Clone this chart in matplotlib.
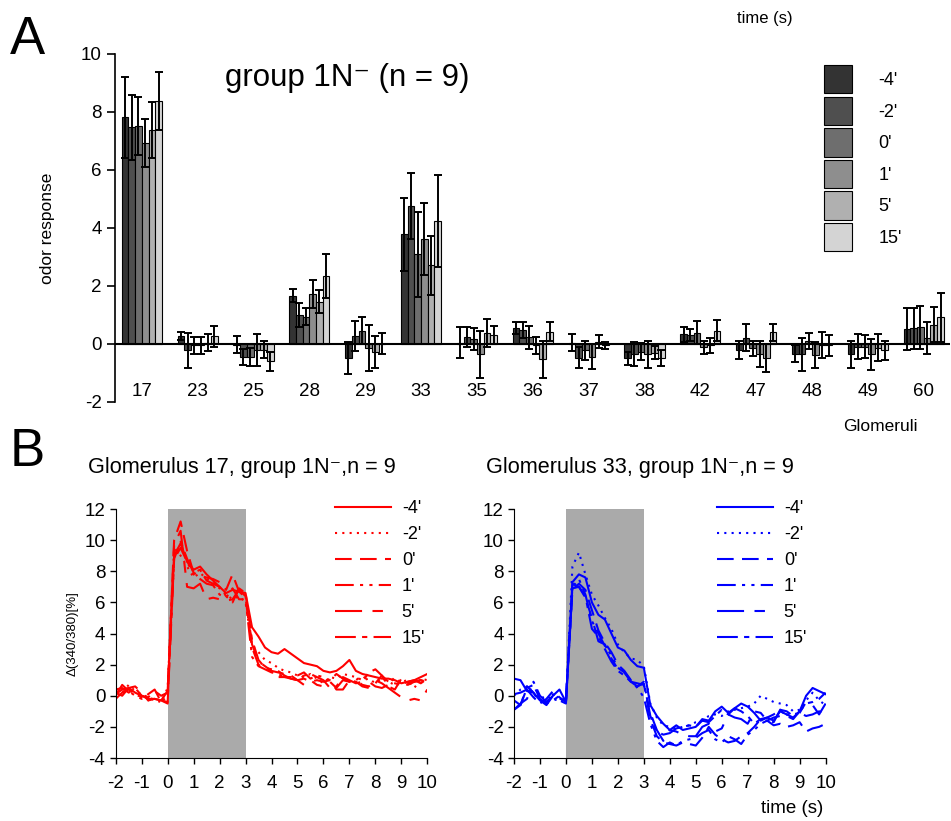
import numpy as np
import matplotlib
matplotlib.use("Agg")
import matplotlib.pyplot as plt

plt.rcParams['font.family'] = ['Liberation Sans', 'DejaVu Sans']
plt.rcParams['axes.unicode_minus'] = False

# panel A: odor responses per glomerulus at six time points
glomeruli = ['17', '23', '25', '28', '29', '33', '35', '36', '37', '38', '42', '47', '48', '49', '60']
time_labels = ["-4'", "-2'", "0'", "1'", "5'", "15'"]
bar_colors = ['#333333', '#4f4f4f', '#6e6e6e', '#8e8e8e', '#b0b0b0', '#d4d4d4']

resp_m4 = [7.82, 0.28, -0.02, 1.67, -0.49, 3.78, 0.05, 0.56, 0.05, -0.49, 0.34, -0.21, -0.34, -0.36, 0.52]
resp_m2 = [7.47, -0.22, -0.44, 1.00, 0.28, 4.76, 0.23, 0.48, -0.47, -0.34, 0.31, 0.22, -0.35, -0.10, 0.54]
resp_0 = [7.52, -0.05, -0.45, 0.94, 0.46, 3.09, 0.16, 0.23, -0.22, -0.26, 0.39, -0.15, 0.10, -0.10, 0.57]
resp_1 = [6.94, -0.05, -0.20, 1.72, -0.14, 3.61, -0.36, -0.05, -0.44, -0.36, -0.11, -0.34, -0.38, -0.36, 0.22]
resp_5 = [7.38, 0.05, -0.20, 1.46, -0.28, 2.71, 0.37, -0.53, 0.08, -0.30, -0.05, -0.49, -0.05, -0.13, 0.66]
resp_15 = [8.38, 0.26, -0.60, 2.34, 0.01, 4.25, 0.31, 0.42, -0.05, -0.49, 0.46, 0.40, -0.05, -0.22, 0.92]

err_m4 = [1.40, 0.15, 0.30, 0.23, 0.56, 1.27, 0.52, 0.21, 0.30, 0.23, 0.26, 0.32, 0.29, 0.48, 0.73]
err_m2 = [1.12, 0.60, 0.28, 0.42, 0.51, 1.15, 0.35, 0.29, 0.35, 0.41, 0.20, 0.46, 0.57, 0.43, 0.71]
err_0 = [1.00, 0.30, 0.32, 0.29, 0.46, 1.47, 0.38, 0.40, 0.33, 0.28, 0.40, 0.25, 0.28, 0.40, 0.74]
err_1 = [0.83, 0.28, 0.55, 0.48, 0.80, 1.24, 0.80, 0.30, 0.43, 0.46, 0.23, 0.46, 0.45, 0.54, 0.55]
err_5 = [0.96, 0.28, 0.30, 0.40, 0.56, 1.02, 0.49, 0.63, 0.23, 0.22, 0.25, 0.49, 0.45, 0.46, 0.60]
err_15 = [0.99, 0.36, 0.32, 0.76, 0.36, 1.59, 0.31, 0.33, 0.12, 0.28, 0.37, 0.29, 0.36, 0.33, 0.85]

responses = [resp_m4, resp_m2, resp_0, resp_1, resp_5, resp_15]
errors = [err_m4, err_m2, err_0, err_1, err_5, err_15]

# panel B: calcium traces, sampled every 0.25 s from -2 s to 10 s
t = np.arange(-2, 10.01, 0.25)

g17_m4 = [0.1, 0.4, 0.5, 0.2, 0.0, -0.2, -0.2, -0.3, 0.3, 9.0, 9.8, 8.6, 8.1, 8.3, 7.8, 7.4, 7.0, 6.6, 6.8, 6.7, 6.6,
          4.4, 3.8, 3.1, 2.8, 2.7, 3.0, 2.7, 2.4, 2.1, 2.0, 1.9, 1.6, 1.5, 1.6, 1.9, 2.3, 1.6, 1.4, 1.3, 1.2, 1.1, 1.1,
          1.0, 0.8, 0.9, 1.0, 1.2, 1.4]
g17_m2 = [0.3, 0.2, 0.7, 0.3, 0.1, -0.1, -0.3, -0.4, 0.5, 9.5, 9.0, 8.3, 7.6, 7.9, 7.5, 7.3, 6.9, 6.5, 6.2, 6.4, 6.0,
          3.2, 2.8, 2.3, 2.1, 1.8, 1.6, 1.5, 1.3, 1.2, 1.4, 1.1, 0.8, 1.2, 1.1, 1.4, 1.3, 1.2, 1.0, 1.1, 0.8, 1.1, 0.9,
          0.7, 0.9, 1.0, 0.5, 1.1, 1.0]
g17_0 = [0.4, 0.5, 0.2, 0.5, 0.0, -0.1, 0.3, 0.0, 0.2, 10.0, 11.2, 9.3, 7.9, 7.7, 7.6, 7.5, 7.3, 6.8, 7.8, 6.7, 6.3,
         3.1, 2.0, 1.7, 1.6, 1.5, 1.4, 1.3, 1.0, 1.1, 0.9, 1.0, 0.9, 1.0, 0.4, 0.4, 1.0, 0.9, 0.6, 0.5, 0.8, 1.3, 0.6,
         0.4, 1.1, 0.8, 0.9, 1.0, 0.9]
g17_1 = [0.0, 0.7, 0.3, 0.0, -0.2, 0.1, 0.4, -0.4, 0.0, 8.8, 9.5, 8.6, 7.8, 7.5, 7.2, 7.1, 6.5, 6.3, 6.9, 6.2, 6.2,
         2.5, 1.9, 1.7, 1.5, 1.4, 1.2, 1.2, 1.3, 1.5, 1.1, 1.3, 1.2, 1.0, 1.4, 1.1, 0.9, 1.0, 1.3, 0.9, 0.6, 0.5, 0.7,
         1.2, 0.8, 0.7, 0.9, 1.0, 0.8]
g17_5 = [0.2, 0.0, 0.5, 0.6, 0.2, -0.3, -0.1, -0.3, -0.5, 9.7, 10.6, 7.0, 6.9, 7.2, 6.2, 6.3, 6.2, 6.1, 6.2, 6.8, 6.4,
         3.3, 2.2, 1.9, 1.6, 1.2, 1.2, 1.1, 1.0, 0.7, 1.0, 0.7, 0.6, 0.9, 0.5, 1.0, 0.9, 1.0, 0.7, 0.6, 1.0, 0.8, 0.5,
         0.2, -0.1, -0.3, -0.2, -0.3, 0.4]
g17_15 = [-0.2, 0.2, 0.4, 0.1, -0.1, -0.3, -0.2, -0.3, -0.4, 8.8, 9.9, 8.8, 7.9, 8.1, 7.4, 7.2, 7.0, 6.4, 6.0, 6.9, 6.6,
          3.6, 2.3, 1.8, 1.7, 1.6, 1.3, 1.1, 1.0, 1.3, 1.4, 1.2, 1.0, 0.5, 0.6, 1.2, 1.0, 0.8, 0.9, 1.5, 1.7, 1.3, 0.9,
          0.8, 0.7, 0.9, 1.0, 0.8, 1.1]

g33_m4 = [1.1, 1.0, 0.3, 0.2, -0.3, -0.6, 0.0, 0.4, -0.4, 7.3, 7.8, 7.6, 6.0, 5.2, 4.9, 4.0, 3.1, 2.9, 2.3, 1.9, 1.8,
          -0.6, -1.3, -1.8, -2.2, -1.9, -2.2, -2.1, -2.0, -1.5, -1.6, -1.0, -0.7, -1.1, -0.8, -0.5, -0.7, -1.1, -1.6,
          -1.4, -1.6, -1.0, -1.2, -1.4, -1.0, 0.0, 0.5, 0.3, 0.1]
g33_m2 = [0.0, 0.4, 0.6, 0.2, -0.2, 0.0, -0.3, -0.2, -0.4, 8.3, 9.2, 7.8, 6.5, 5.8, 5.0, 4.3, 3.3, 2.8, 2.4, 2.3, 1.9,
          -0.5, -1.4, -1.9, -2.0, -2.1, -2.0, -1.9, -1.7, -1.6, -1.3, -1.2, -1.3, -1.0, -0.9, -0.8, -0.7, -0.5, 0.0,
          -0.2, -0.4, -0.5, -0.6, -1.0, -0.9, -0.3, 0.2, -0.3, -0.6]
g33_0 = [-0.3, -0.6, 0.6, 0.2, -0.5, -0.2, 0.3, -0.1, -0.4, 6.8, 7.2, 6.8, 5.5, 4.2, 3.4, 2.8, 2.0, 1.6, 1.0, 0.6, 0.8,
         -1.5, -2.6, -3.0, -3.1, -3.2, -3.0, -3.1, -3.2, -2.7, -2.0, -2.5, -2.8, -3.0, -2.9, -2.6, -2.4, -2.0, -1.5,
         -1.6, -1.9, -1.8, -2.0, -1.9, -1.7, -2.3, -2.1, -2.0, -1.8]
g33_1 = [-0.9, -0.5, -0.2, 0.9, 0.0, -0.4, 0.1, -0.2, -0.3, 7.0, 7.5, 6.5, 4.8, 4.0, 3.2, 2.6, 1.8, 1.5, 1.0, 0.5, -0.1,
         -1.8, -2.9, -3.3, -3.0, -3.2, -2.9, -2.8, -2.7, -2.4, -2.2, -2.8, -3.0, -2.6, -2.8, -3.1, -2.5, -2.2, -1.8,
         -1.6, -1.4, -1.3, -1.2, -1.2, -1.1, -1.3, -1.2, -1.0, -1.1]
g33_5 = [0.1, 0.2, 0.4, -0.1, -0.5, -0.4, 0.0, -0.3, -0.5, 7.2, 7.0, 6.3, 5.0, 3.5, 3.3, 2.4, 1.7, 1.5, 0.9, 0.8, 0.7,
         -1.1, -2.2, -2.9, -2.2, -2.3, -2.5, -2.6, -2.6, -2.0, -1.8, -2.3, -2.1, -1.2, -1.4, -1.5, -1.8, -1.0, -1.1,
         -1.6, -1.7, -0.9, -1.0, -1.3, -1.1, -0.4, -0.6, -1.2, -0.5]
g33_15 = [-0.9, -0.6, 0.5, 0.7, -0.2, -0.5, -0.3, 0.0, -0.4, 6.9, 7.0, 6.4, 4.3, 3.8, 3.0, 2.2, 1.6, 1.3, 0.9, 0.6, 0.9,
          -1.3, -2.3, -2.5, -2.4, -2.1, -2.0, -1.9, -2.0, -1.6, -1.7, -1.3, -0.9, -1.2, -0.8, -1.0, -1.3, -1.8, -1.5,
          -1.4, -1.2, -0.9, -1.3, -1.5, -1.0, -0.5, -0.4, -0.2, 0.2]

line_styles = ['-', (0, (1, 2.5)), (0, (8, 4)), (0, (9, 3, 1.5, 3, 1.5, 3)), (0, (13, 5, 5, 5)), (0, (10, 3, 2.5, 3))]

W, H = 951, 821
fig = plt.figure(figsize=(W / 100, H / 100), dpi=100)


def fx(px):
    return px / W


def fy(py):
    return 1 - py / H


# ---- panel A ----
ax = fig.add_axes([fx(115), fy(402), fx(950 - 115), (402 - 54) / H])
x = np.arange(len(glomeruli))
w = 0.12
for k in range(6):
    ax.bar(x + (k - 2.5) * w, responses[k], w, yerr=errors[k], color=bar_colors[k],
           edgecolor='black', linewidth=0.8, label=time_labels[k],
           error_kw=dict(ecolor='black', elinewidth=1.4, capsize=3, capthick=1.4))
ax.axhline(0, color='black', lw=1.5)
ax.set_xlim(-0.48, 14.47)
ax.set_ylim(-2, 10)
ax.set_yticks(np.arange(-2, 11, 2))
ax.tick_params(axis='y', labelsize=13.5, length=6, width=1.2, direction='out')
ax.set_xticks([])
for s in ['top', 'right', 'bottom']:
    ax.spines[s].set_visible(False)
ax.spines['left'].set_linewidth(1.2)
for i, g in enumerate(glomeruli):
    ax.text(i, -1.65, g, ha='center', va='center', fontsize=13.5)
ax.set_ylabel('odor response', fontsize=12.5, labelpad=19)
fig.text(fx(225), fy(78), 'group 1N\u207b (n = 9)', fontsize=22.5, ha='left', va='center')
fig.legend(*ax.get_legend_handles_labels(), loc='upper left', bbox_to_anchor=(fx(824), fy(65)),
           frameon=False, fontsize=13, handlelength=1.55, handleheight=2.05, labelspacing=0.17,
           handletextpad=1.45, borderpad=0, borderaxespad=0)

fig.text(fx(10), fy(40), 'A', fontsize=38, va='center')
fig.text(fx(765), fy(18), 'time (s)', fontsize=12, ha='center', va='center')
fig.text(fx(880), fy(426), 'Glomeruli', fontsize=12.5, ha='center', va='center')


# ---- panel B ----
def trace_panel(left, traces, color, title, leg_x):
    axb = fig.add_axes([fx(left), fy(758), 311.6 / W, 249 / H])
    axb.axvspan(0, 3, color='#aaaaaa', lw=0, zorder=0)
    for tr, ls, lab in zip(traces, line_styles, time_labels):
        axb.plot(t, tr, color=color, lw=1.5, linestyle=ls, label=lab)
    axb.set_xlim(-2, 10)
    axb.set_ylim(-4, 12)
    axb.set_xticks(np.arange(-2, 11, 1))
    axb.set_yticks(np.arange(-4, 13, 2))
    axb.tick_params(labelsize=13.5, length=4, width=1.0)
    axb.tick_params(axis='x', pad=8)
    for s in ['top', 'right']:
        axb.spines[s].set_visible(False)
    fig.text(fx(left - 28), fy(467), title, fontsize=15.6, ha='left', va='center')
    fig.legend(*axb.get_legend_handles_labels(), loc='upper left',
               bbox_to_anchor=(fx(leg_x), fy(500)), frameon=False, fontsize=13,
               handlelength=3.1, labelspacing=0.5, handletextpad=0.6,
               borderpad=0, borderaxespad=0)
    return axb


axl = trace_panel(115.7, [g17_m4, g17_m2, g17_0, g17_1, g17_5, g17_15], '#ff0000',
                  'Glomerulus 17, group 1N\u207b,n = 9', 335)
axl.set_ylabel('\u0394(340/380)[%]', fontsize=9.5)

axr = trace_panel(514, [g33_m4, g33_m2, g33_0, g33_1, g33_5, g33_15], '#0000ff',
                  'Glomerulus 33, group 1N\u207b,n = 9', 717)
fig.text(fx(792), fy(808), 'time (s)', fontsize=13.5, ha='center', va='center')

fig.text(fx(10), fy(452), 'B', fontsize=38, va='center')

fig.savefig('out.png', dpi=100)
